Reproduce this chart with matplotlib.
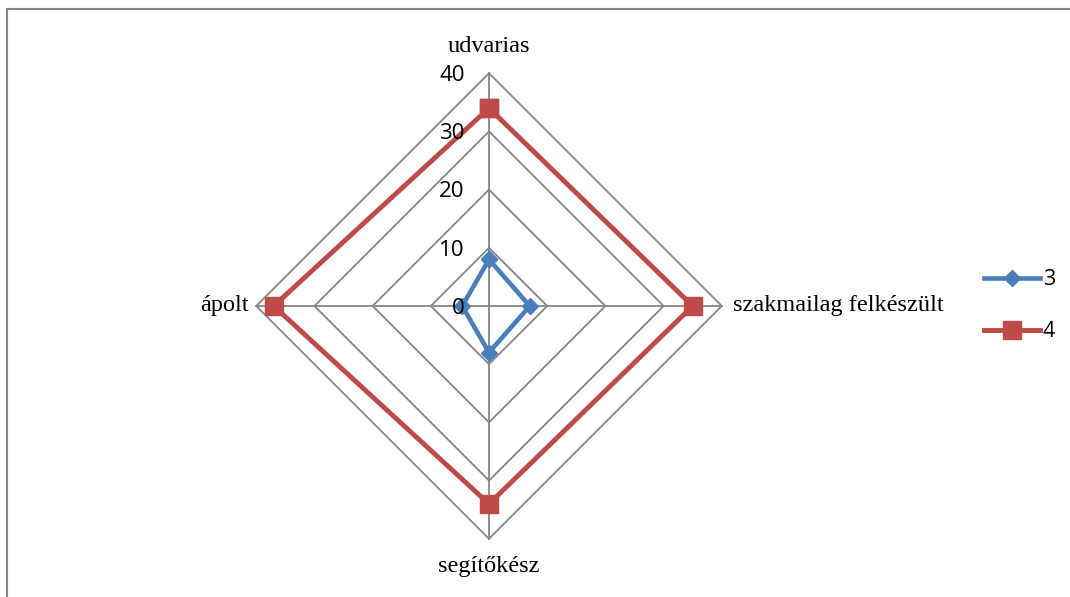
import matplotlib.pyplot as plt
import numpy as np

categories = ["udvarias", "szakmailag felkészült", "segítőkész", "ápolt"]
series_3 = [8, 7, 8, 4.6]
series_4 = [34, 35, 34, 37]
ticks = [0, 10, 20, 30, 40]

# angles measured clockwise from top
theta = np.deg2rad([0, 90, 180, 270])

def xy(vals):
    v = np.array(vals, dtype=float)
    x = v * np.sin(theta)
    y = v * np.cos(theta)
    return np.append(x, x[0]), np.append(y, y[0])

fig = plt.figure(figsize=(10.70, 5.97), dpi=100)
ax = fig.add_axes([0, 0, 1, 1])
scale = 5.82
ax.set_xlim(-489 / scale, (1070 - 489) / scale)
ax.set_ylim((306 - 597) / scale, 306 / scale)
ax.axis("off")

grid_c = "#868686"
for t in ticks[1:]:
    gx, gy = xy([t] * 4)
    ax.plot(gx, gy, color=grid_c, lw=1.3, zorder=1)
for th in theta:
    ax.plot([0, 40 * np.sin(th)], [0, 40 * np.cos(th)], color=grid_c, lw=1.3, zorder=1)

bx, by = xy(series_3)
ax.plot(bx, by, color="#4a7ebb", lw=3.3, marker="D", ms=8, mfc="#4a7ebb",
        mec="#4a7ebb", zorder=3, label="3")
rx, ry = xy(series_4)
ax.plot(rx, ry, color="#be4b48", lw=3.5, marker="s", ms=13, mfc="#be4b48",
        mec="#be4b48", zorder=3, label="4")

for t in ticks:
    ax.text(-4.2, t - 0.4, str(t), ha="right", va="center", fontsize=16,
            family="Open Sans", color="black", zorder=4)

serif = "Liberation Serif"
fs = 17.5
ax.text(0, 44.6, categories[0], ha="center", va="center", fontsize=fs, family=serif)
ax.text(41.9, 0, categories[1], ha="left", va="center", fontsize=fs, family=serif)
ax.text(0, -44.8, categories[2], ha="center", va="center", fontsize=fs, family=serif)
ax.text(-41.2, 0, categories[3], ha="right", va="center", fontsize=fs, family=serif)

leg = ax.legend(loc="center left", bbox_to_anchor=(0.912, 0.488), frameon=False,
                prop={"family": "Open Sans", "size": 15.5}, handlelength=2.6,
                handletextpad=0.1, labelspacing=1.45, borderaxespad=0)

# chart border (top and left edges visible)
fig.add_artist(plt.Line2D([7 / 1070, 1], [1 - 9 / 597] * 2, color="#888888", lw=1.5,
                          transform=fig.transFigure))
fig.add_artist(plt.Line2D([7 / 1070] * 2, [0, 1 - 9 / 597], color="#888888", lw=1.5,
                          transform=fig.transFigure))

fig.savefig("out.png", dpi=100)
